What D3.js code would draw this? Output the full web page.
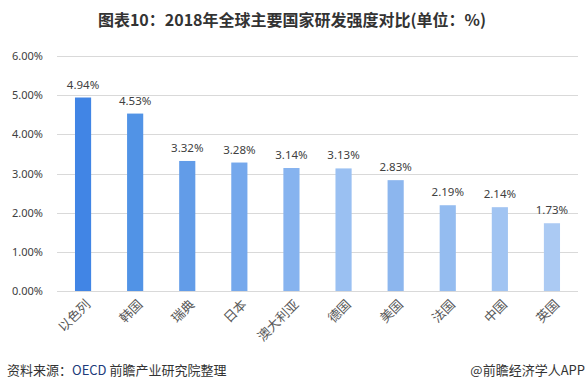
<!DOCTYPE html>
<html>
<head>
<meta charset="utf-8">
<script src="https://cdn.jsdelivr.net/npm/d3@7"></script>
<style>
  body { margin: 0; background: #fff; }
  svg { display: block; }
</style>
</head>
<body>
<div id="chart"></div>
<script>
// data
var countries = ["以色列", "韩国", "瑞典", "日本", "澳大利亚", "德国", "美国", "法国", "中国", "英国"];
var intensity = [4.94, 4.53, 3.32, 3.28, 3.14, 3.13, 2.83, 2.19, 2.14, 1.73];
var barColors = ["#4185e5", "#5193e6", "#629ce8", "#75a8ec", "#86b3ef", "#9ac0f2", "#8cb6ee", "#94bcf0", "#a1c4f2", "#abcaf3"];
var yTicks = [0, 1, 2, 3, 4, 5, 6];

var W = 587, H = 391;
var plot = {left: 57, right: 578, top: 56, bottom: 291};
var cjk = "'Noto Sans CJK SC', 'Noto Sans', sans-serif";
var num = "'Noto Sans', 'Noto Sans CJK SC', sans-serif";

var svg = d3.select("#chart")
    .append("svg")
        .attr("width", W)
        .attr("height", H)
        .style("background-color", "#fff");

var x = d3.scaleBand()
    .domain(countries)
    .range([plot.left, plot.right])
    .paddingInner(0.69)
    .paddingOuter(0.345);

var y = d3.scaleLinear()
    .domain([0, 6])
    .range([plot.bottom, plot.top]);

// titel
svg.append("text")
    .attr("x", 292)
    .attr("y", 26)
    .attr("text-anchor", "middle")
    .style("font-family", cjk)
    .style("font-size", "16px")
    .style("font-weight", "bold")
    .style("fill", "#333")
    .text("图表10：2018年全球主要国家研发强度对比(单位：%)");

// gridlines + y labels
var yAxis = d3.axisLeft(y)
    .tickValues(yTicks)
    .tickSize(-(plot.right - plot.left))
    .tickPadding(14)
    .tickFormat(function(d){ return d3.format(".2f")(d) + "%"; });

var gy = svg.append("g")
    .attr("transform", "translate(" + plot.left + ",0)")
    .call(yAxis);
gy.select(".domain").remove();
gy.selectAll(".tick line")
    .attr("stroke", "#d9d9d9")
    .attr("shape-rendering", "crispEdges");
gy.selectAll(".tick text")
    .style("font-family", num)
    .style("font-size", "11px")
    .style("fill", "#404040");

// stolper
svg.append("g")
    .selectAll("rect")
    .data(intensity)
    .enter()
    .append("rect")
    .attr("x", function(d, i){ return x(countries[i]); })
    .attr("y", function(d){ return y(d); })
    .attr("width", x.bandwidth())
    .attr("height", function(d){ return y(0) - y(d); })
    .attr("fill", function(d, i){ return barColors[i]; });

// verdier over stolpene
svg.append("g")
    .selectAll("text")
    .data(intensity)
    .enter()
    .append("text")
    .attr("x", function(d, i){ return x(countries[i]) + x.bandwidth() / 2; })
    .attr("y", function(d){ return y(d) - 9; })
    .attr("text-anchor", "middle")
    .style("font-family", num)
    .style("font-size", "11.5px")
    .style("fill", "#404040")
    .text(function(d){ return d.toFixed(2) + "%"; });

// x labels, rotated
var xAxis = d3.axisBottom(x).tickSize(0).tickPadding(0);
var gx = svg.append("g")
    .attr("transform", "translate(0," + plot.bottom + ")")
    .call(xAxis);
gx.select(".domain").remove();
gx.selectAll(".tick text")
    .attr("text-anchor", "end")
    .attr("transform", "translate(5,11) rotate(-45)")
    .attr("dy", "0.35em")
    .attr("y", 0)
    .style("font-family", cjk)
    .style("font-size", "13px")
    .style("fill", "#595959");

// kilde
var src = svg.append("text")
    .attr("x", 7)
    .attr("y", 375)
    .style("font-family", cjk)
    .style("font-size", "13px")
    .style("fill", "#333");
src.append("tspan").text("资料来源：");
src.append("tspan").style("fill", "#203a7a").text("OECD");
src.append("tspan").text(" 前瞻产业研究院整理");

svg.append("text")
    .attr("x", 585)
    .attr("y", 375)
    .attr("text-anchor", "end")
    .style("font-family", cjk)
    .style("font-size", "13px")
    .style("fill", "#333")
    .text("@前瞻经济学人APP");
</script>
</body>
</html>
